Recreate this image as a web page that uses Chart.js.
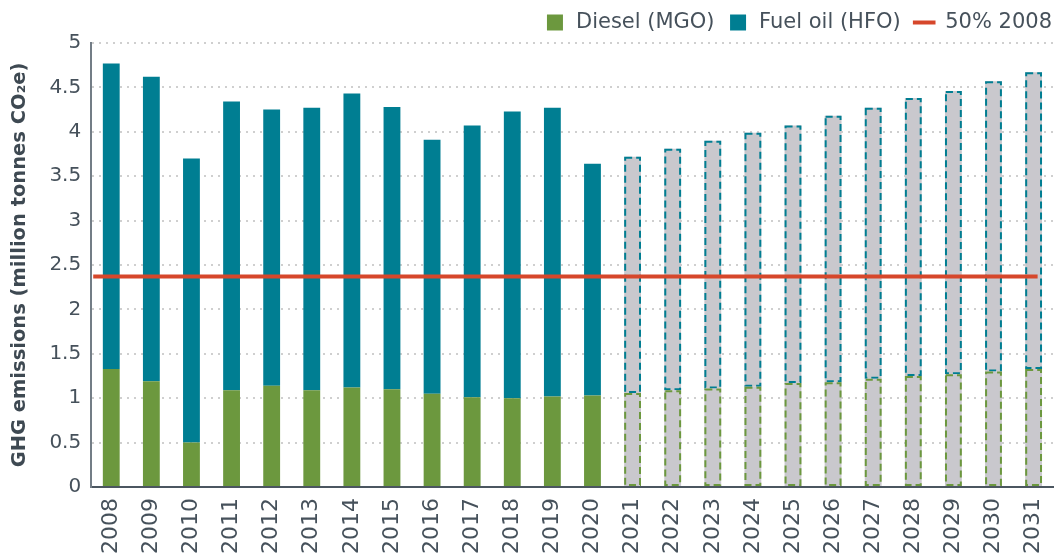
<!DOCTYPE html>
<html>
<head>
<meta charset="utf-8">
<script src="https://cdn.jsdelivr.net/npm/chart.js@4/dist/chart.umd.min.js"></script>
<style>
  html, body { margin: 0; padding: 0; background: #fff; }
  #wrap { width: 1063px; height: 557px; }
</style>
</head>
<body>
<div id="wrap"><canvas id="ghg-chart"></canvas></div>
<script>
'use strict';

// ── Data ─────────────────────────────────────────────────────────────────────

const years = ['2008', '2009', '2010', '2011', '2012', '2013', '2014', '2015',
  '2016', '2017', '2018', '2019', '2020', '2021', '2022', '2023', '2024',
  '2025', '2026', '2027', '2028', '2029', '2030', '2031'];

// historical (2008-2020), null where projected
const dieselHist = [1.33, 1.19, 0.50, 1.09, 1.14, 1.09, 1.12, 1.10, 1.05, 1.01, 1.00, 1.02, 1.03,
  null, null, null, null, null, null, null, null, null, null, null];
const fuelOilHist = [3.44, 3.43, 3.20, 3.25, 3.11, 3.18, 3.31, 3.18, 2.86, 3.06, 3.23, 3.25, 2.61,
  null, null, null, null, null, null, null, null, null, null, null];

// projected (2021-2031)
const dieselProj = [null, null, null, null, null, null, null, null, null, null, null, null, null,
  1.06, 1.09, 1.11, 1.13, 1.17, 1.18, 1.22, 1.25, 1.27, 1.30, 1.33];
const fuelOilProj = [null, null, null, null, null, null, null, null, null, null, null, null, null,
  2.66, 2.72, 2.79, 2.86, 2.90, 3.00, 3.05, 3.13, 3.19, 3.27, 3.34];

// 50% of 2008 level, drawn across the whole span
const halfOf2008 = 2.37;
const lineFrom = -0.45;  // category index where the line starts
const lineTo = 23.1;     // category index where it ends

const yTicks = [0, 0.5, 1, 1.5, 2, 2.5, 3, 3.5, 4, 4.5, 5];

// ── Colours ──────────────────────────────────────────────────────────────────

const GREEN = '#6c983e';
const TEAL  = '#007e92';
const GREY  = '#c9c8cd';
const RED   = '#d6472b';
const TEXT  = '#46515b';

// dashed outline for the projected bars (bar elements have no borderDash)
const dashedBars = {
  id: 'dashedBars',
  afterDatasetDraw(chart, args) {
    const ds = chart.data.datasets[args.index];
    if (!ds.dashColor) return;
    const ctx = chart.ctx;
    ctx.save();
    ctx.strokeStyle = ds.dashColor;
    ctx.lineWidth = 2;
    ctx.setLineDash([7, 4]);
    args.meta.data.forEach((bar, i) => {
      if (ds.data[i] == null) return;
      const { x, y, base, width } = bar.getProps(['x', 'y', 'base', 'width'], true);
      ctx.strokeRect(x - width / 2 + 1, Math.min(y, base) + 1, width - 2, Math.abs(base - y) - 2);
    });
    ctx.restore();
  }
};

// ── Chart ────────────────────────────────────────────────────────────────────

const barShared = {
  stack: 'ghg', grouped: false, borderWidth: 0, order: 1,
  xAxisID: 'x', yAxisID: 'y', pointStyle: 'rect'
};

new Chart(document.getElementById('ghg-chart'), {
  type: 'bar',
  data: {
    labels: years,
    datasets: [
      { ...barShared, label: 'Diesel (MGO)',   data: dieselHist,  backgroundColor: GREEN },
      { ...barShared, label: 'Fuel oil (HFO)', data: fuelOilHist, backgroundColor: TEAL },
      { ...barShared, label: 'Diesel proj',    data: dieselProj,  backgroundColor: GREY, dashColor: GREEN },
      { ...barShared, label: 'Fuel oil proj',  data: fuelOilProj, backgroundColor: GREY, dashColor: TEAL },
      {
        type: 'line',
        label: '50% 2008',
        data: [{ x: lineFrom, y: halfOf2008 }, { x: lineTo, y: halfOf2008 }],
        xAxisID: 'x2',
        yAxisID: 'y',
        borderColor: RED,
        backgroundColor: RED,
        borderWidth: 4,
        pointRadius: 0,
        pointStyle: 'line',
        fill: false,
        order: -1
      }
    ]
  },
  plugins: [dashedBars],
  options: {
    responsive: true,
    maintainAspectRatio: false,
    animation: false,
    layout: { padding: { left: 8, right: -2, top: -1, bottom: 0 } },
    datasets: { bar: { categoryPercentage: 1, barPercentage: 0.42 } },
    plugins: {
      tooltip: { enabled: false },
      legend: {
        position: 'top',
        align: 'end',
        labels: {
          filter: item => !/proj/.test(item.text),
          sort: (a, b) => a.datasetIndex - b.datasetIndex,
          usePointStyle: true,
          boxHeight: 16,
          padding: 13,
          color: TEXT,
          font: { family: 'DejaVu Sans', size: 21 }
        }
      }
    },
    scales: {
      x: {
        stacked: true,
        grid: { display: false },
        border: { display: true, color: '#4b5660', width: 2 },
        ticks: {
          color: TEXT,
          minRotation: 90,
          maxRotation: 90,
          padding: 3,
          font: { family: 'DejaVu Sans', size: 22 }
        }
      },
      // hidden helper axis so the target line can run past the first/last bar
      x2: {
        type: 'linear',
        display: false,
        offset: false,
        bounds: 'data',
        min: -0.5,
        max: 23.5
      },
      y: {
        stacked: true,
        min: 0,
        max: 5,
        afterBuildTicks: axis => { axis.ticks = yTicks.map(v => ({ value: v })); },
        grid: { color: '#cfcfcf', lineWidth: 2, drawTicks: false },
        border: { display: true, color: '#737d86', width: 2, dash: [2, 5] },
        ticks: {
          color: TEXT,
          padding: 10,
          callback: v => String(v),
          font: { family: 'DejaVu Sans', size: 20 }
        },
        title: {
          display: true,
          text: 'GHG emissions (million tonnes CO₂e)',
          color: '#3e4952',
          padding: { top: 0, bottom: 8 },
          font: { family: 'DejaVu Sans', size: 19.5, weight: 'bold' }
        }
      }
    }
  }
});
</script>
</body>
</html>
